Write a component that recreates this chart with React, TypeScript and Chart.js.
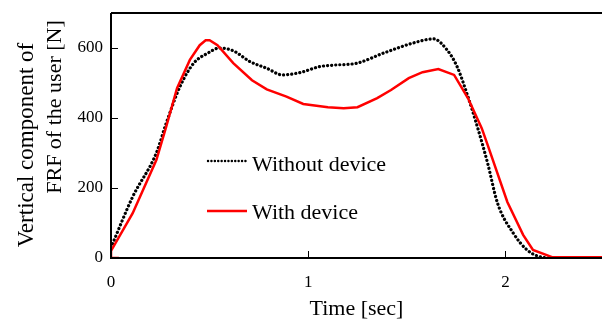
import React, { useEffect, useRef } from "react";
import { Chart, registerables } from "chart.js";

Chart.register(...registerables);

const withoutX = [0, 0.11, 0.23, 0.28, 0.35, 0.42, 0.49, 0.55, 0.62, 0.705, 0.79, 0.87, 0.96, 1.06, 1.13, 1.25, 1.38, 1.55, 1.635, 1.705, 1.755, 1.81, 1.86, 1.91, 1.96, 2.04, 2.11, 2.18, 2.25, 2.49];
const withoutY = [30, 175, 300, 385, 490, 557, 585, 600, 592, 561, 542, 523, 530, 547, 551, 557, 585, 617, 626, 594, 547, 461, 371, 271, 157, 71, 23, 3, 0, 0];

const withX = [0.04, 0, 0, 0.11, 0.23, 0.28, 0.335, 0.4, 0.45, 0.48, 0.5, 0.54, 0.62, 0.715, 0.79, 0.89, 0.975, 1.1, 1.18, 1.25, 1.35, 1.42, 1.51, 1.58, 1.66, 1.74, 1.81, 1.88, 1.91, 2.01, 2.09, 2.14, 2.24, 2.49];
const withY = [0, 0, 20, 128, 280, 375, 485, 566, 608, 622, 622, 608, 557, 508, 482, 461, 440, 431, 428, 431, 457, 480, 514, 531, 540, 523, 457, 371, 323, 160, 66, 23, 2, 2];

const seriesNames = ["Without device", "With device"];
const xTicks = [0, 1, 2];
const yTicks = [0, 200, 400, 600];
const xTitle = "Time [sec]";
const yTitleLines = ["Vertical component of", "FRF of the user [N]"];

const FONT = '"Liberation Serif", "Times New Roman", serif';

export default function App() {
  const ref = useRef<HTMLCanvasElement | null>(null);
  useEffect(() => {
    const canvas = ref.current!;
    const decor = {
      id: "decor",
      afterDraw(chart: any) {
        const ctx = chart.ctx;
        const a = chart.chartArea;
        const xs = chart.scales.x;
        const ys = chart.scales.y;
        ctx.save();
        ctx.strokeStyle = "#000";
        ctx.lineWidth = 2;
        ctx.beginPath();
        ctx.moveTo(a.left, a.top);
        ctx.lineTo(a.right, a.top);
        ctx.moveTo(a.left, a.top);
        ctx.lineTo(a.left, a.bottom);
        ctx.lineTo(a.right, a.bottom);
        ctx.stroke();
        ctx.lineWidth = 1;
        ctx.beginPath();
        for (const v of xTicks) {
          const px = Math.round(xs.getPixelForValue(v)) + 0.5;
          ctx.moveTo(px, a.bottom);
          ctx.lineTo(px, a.bottom - 7);
        }
        for (const v of yTicks) {
          const py = Math.round(ys.getPixelForValue(v)) + 0.5;
          ctx.moveTo(a.left, py);
          ctx.lineTo(a.left + 7, py);
        }
        ctx.stroke();
        // legend
        ctx.lineWidth = 2.4;
        ctx.lineCap = "round";
        ctx.setLineDash([0.1, 3.3]);
        ctx.beginPath();
        ctx.moveTo(208, 161);
        ctx.lineTo(247, 161);
        ctx.stroke();
        ctx.setLineDash([]);
        ctx.lineCap = "butt";
        ctx.strokeStyle = "#ff0000";
        ctx.lineWidth = 2.5;
        ctx.beginPath();
        ctx.moveTo(207, 211);
        ctx.lineTo(247, 211);
        ctx.stroke();
        ctx.fillStyle = "#000";
        ctx.font = `22px ${FONT}`;
        ctx.textBaseline = "alphabetic";
        ctx.textAlign = "left";
        ctx.fillText(seriesNames[0], 252, 171);
        ctx.fillText(seriesNames[1], 252, 219);
        // x title
        ctx.textAlign = "center";
        ctx.fillText(xTitle, (a.left + a.right) / 2, 315);
        // y title
        ctx.save();
        ctx.font = `23px ${FONT}`;
        ctx.translate(27, 145);
        ctx.rotate(-Math.PI / 2);
        ctx.textBaseline = "middle";
        ctx.fillText(yTitleLines[0], 0, 0);
        ctx.restore();
        ctx.save();
        ctx.font = `22px ${FONT}`;
        ctx.translate(55, 107);
        ctx.rotate(-Math.PI / 2);
        ctx.textBaseline = "middle";
        ctx.fillText(yTitleLines[1], 0, 0);
        ctx.restore();
        ctx.restore();
      },
    };
    const chart = new Chart(canvas, {
      type: "line",
      data: {
        datasets: [
          {
            label: seriesNames[1],
            data: withX.map((x, i) => ({ x, y: withY[i] })),
            borderColor: "#ff0000",
            borderWidth: 2.5,
            pointRadius: 0,
            tension: 0,
            fill: false,
          },
          {
            label: seriesNames[0],
            data: withoutX.map((x, i) => ({ x, y: withoutY[i] })),
            borderColor: "#000",
            borderWidth: 3.2,
            borderDash: [0.1, 4],
            borderCapStyle: "round",
            pointRadius: 0,
            cubicInterpolationMode: "monotone",
            fill: false,
          },
        ],
      },
      options: {
        animation: false,
        responsive: false,
        devicePixelRatio: 1,
        layout: { padding: { top: 13, left: 0, right: 0, bottom: 0 } },
        plugins: { legend: { display: false }, tooltip: { enabled: false } },
        scales: {
          x: {
            type: "linear",
            min: 0,
            max: 2.49,
            afterBuildTicks: (s: any) => {
              s.ticks = xTicks.map((v) => ({ value: v }));
            },
            afterFit: (s: any) => {
              s.height = 62;
              s.paddingLeft = 0;
              s.paddingRight = 0;
            },
            grid: { display: false, drawTicks: false },
            border: { display: false },
            ticks: {
              color: "#000",
              font: { family: FONT, size: 17 },
              padding: 14,
              maxRotation: 0,
              autoSkip: false,
              callback: (v: any) => String(v),
            },
          },
          y: {
            type: "linear",
            min: 0,
            max: 700,
            afterBuildTicks: (s: any) => {
              s.ticks = yTicks.map((v) => ({ value: v }));
            },
            afterFit: (s: any) => {
              s.width = 111;
              s.paddingTop = 0;
              s.paddingBottom = 0;
            },
            grid: { display: false, drawTicks: false },
            border: { display: false },
            ticks: {
              color: "#000",
              font: { family: FONT, size: 17 },
              padding: 8,
              autoSkip: false,
              callback: (v: any) => String(v),
            },
          },
        },
      },
      plugins: [decor],
    });
    return () => chart.destroy();
  }, []);
  return (
    <div style={{ position: "fixed", left: 0, top: 0, width: 602, height: 320, background: "#fff" }}>
      <canvas ref={ref} width={602} height={320} style={{ display: "block", width: 602, height: 320 }} />
    </div>
  );
}
